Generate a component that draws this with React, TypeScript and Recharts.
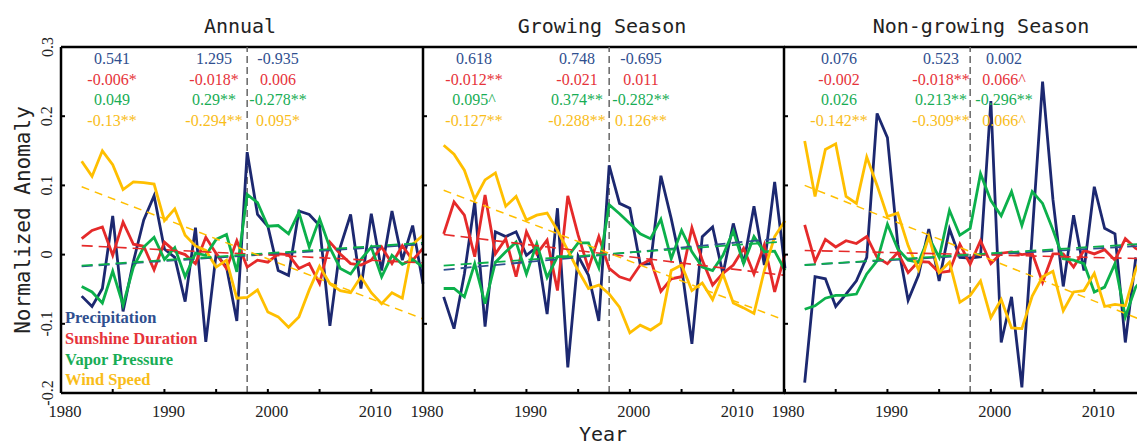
import { LineChart, Line, XAxis, YAxis, ReferenceLine } from "recharts";

const years = [
  1982, 1983, 1984, 1985, 1986, 1987, 1988, 1989, 1990, 1991, 1992, 1993, 1994, 1995, 1996, 1997, 1998,
  1999, 2000, 2001, 2002, 2003, 2004, 2005, 2006, 2007, 2008, 2009, 2010, 2011, 2012, 2013, 2014, 2015,
];

const xTicks = [1980, 1985, 1990, 1995, 2000, 2005, 2010, 2015];
const yTicks = [-0.2, -0.1, 0, 0.1, 0.2, 0.3];

// Annual
const annualPrecip = [-0.06, -0.075, -0.049, 0.056, -0.082, -0.01, 0.05, 0.085, 0.008, -0.004, -0.068, 0.039, -0.126, 0.001, -0.018, -0.096, 0.148, 0.058, 0.041, -0.023, -0.03, 0.063, 0.058, 0.042, -0.103, 0.011, 0.058, -0.049, 0.059, -0.023, 0.063, -0.008, 0.042, -0.042];
const annualSunshine = [0.023, 0.035, 0.04, -0.001, 0.047, 0.015, 0.012, -0.022, 0.018, 0.005, 0, -0.013, 0.025, 0.0015, -0.02, 0.02, -0.018, -0.008, -0.011, 0.001, 0, -0.02, -0.013, -0.042, 0.018, 0.001, -0.013, -0.015, -0.008, 0.011, -0.013, 0.013, -0.008, 0.009];
const annualVapor = [-0.046, -0.054, -0.07, -0.024, -0.073, -0.018, 0.011, 0.025, -0.007, 0.01, -0.032, 0.002, -0.001, 0.022, 0.029, -0.025, 0.087, 0.075, 0.041, 0.042, 0.03, 0.061, 0.011, 0.052, 0.01, -0.02, -0.028, -0.007, 0.011, -0.032, -0.001, -0.014, -0.007, -0.018];
const annualWind = [0.135, 0.113, 0.15, 0.13, 0.094, 0.105, 0.104, 0.102, 0.049, 0.066, 0.028, 0.0125, 0.006, -0.018, -0.008, -0.063, -0.062, -0.051, -0.083, -0.09, -0.105, -0.09, -0.051, -0.017, -0.042, -0.052, -0.055, -0.032, -0.055, -0.071, -0.055, -0.063, 0.015, 0.028];

// Growing season
const growingPrecip = [-0.061, -0.107, -0.028, 0.076, -0.104, 0.033, 0.026, 0.033, -0.001, 0.011, -0.086, 0.067, -0.163, -0.002, -0.03, -0.096, 0.129, 0.074, 0.067, -0.014, -0.013, 0.114, 0.052, -0.018, -0.129, 0.026, 0.04, -0.028, 0.045, -0.013, 0.07, -0.015, 0.105, -0.02];
const growingSunshine = [0.03, 0.076, 0.057, -0.003, 0.086, 0.001, 0.023, -0.032, 0.033, 0.001, 0.021, -0.052, 0.085, 0.028, -0.02, 0.026, -0.02, -0.032, -0.037, -0.015, -0.007, -0.053, -0.035, -0.032, 0.039, -0.008, -0.044, -0.027, -0.015, 0.009, -0.028, 0.014, -0.054, 0.001];
const growingVapor = [-0.049, -0.049, -0.061, -0.013, -0.071, -0.011, 0.004, 0.018, -0.028, 0.016, -0.033, -0.003, -0.003, 0.017, 0.017, -0.019, 0.072, 0.059, 0.045, 0.03, 0.023, 0.051, -0.006, 0.035, 0.004, -0.018, -0.023, -0.001, 0.034, -0.013, 0.026, 0.004, 0.005, -0.023];
const growingWind = [0.158, 0.145, 0.122, 0.08, 0.108, 0.118, 0.07, 0.084, 0.05, 0.057, 0.06, 0.035, 0.006, -0.023, -0.049, -0.044, -0.057, -0.076, -0.113, -0.102, -0.109, -0.099, -0.023, -0.015, -0.052, -0.041, -0.065, -0.028, -0.07, -0.077, -0.085, -0.023, 0.026, 0.049];

// Non-growing season
const nonGrowingPrecip = [-0.185, -0.032, -0.035, -0.075, -0.057, -0.038, -0.004, 0.204, 0.169, 0.015, -0.066, -0.03, 0.037, -0.038, 0.037, -0.004, -0.005, -0.003, 0.222, -0.127, -0.061, -0.192, 0.03, 0.25, 0.08, -0.046, 0.057, -0.023, 0.098, 0.038, 0.03, -0.127, -0.006, -0.01];
const nonGrowingSunshine = [0.043, -0.01, 0.022, 0.011, 0.02, 0.016, 0.026, -0.004, -0.013, 0.003, -0.026, -0.01, -0.011, -0.026, -0.024, 0.015, -0.014, 0.02, -0.013, 0.002, 0.004, 0, 0.002, -0.04, 0.001, 0.001, -0.018, 0.006, 0.001, 0.007, -0.008, 0.023, 0.009, 0.003];
const nonGrowingVapor = [-0.079, -0.074, -0.063, -0.059, -0.059, -0.057, -0.028, -0.009, 0.044, 0.008, -0.008, -0.011, 0.025, -0.004, 0.064, 0.028, 0.038, 0.117, 0.078, 0.056, 0.091, 0.042, 0.091, 0.074, 0.036, -0.006, -0.008, -0.013, -0.054, -0.047, -0.013, -0.09, -0.047, -0.03];
const nonGrowingWind = [0.164, 0.084, 0.152, 0.16, 0.084, 0.074, 0.141, 0.1, 0.055, 0.06, 0.013, -0.022, 0.026, -0.026, -0.011, -0.069, -0.059, -0.038, -0.091, -0.065, -0.106, -0.107, -0.06, -0.032, -0.024, -0.081, -0.054, -0.052, -0.027, -0.075, -0.072, -0.074, -0.022, 0.01];

// trend lines: value at 1982 and at 2015
const annualTrends = { p: [-0.017, 0.015], s: [0.013, -0.012], v: [-0.016, 0.017], w: [0.098, -0.093] };
const growingTrends = { p: [-0.022, 0.024], s: [0.029, -0.03], v: [-0.016, 0.019], w: [0.093, -0.095] };
const nonGrowingTrends = { p: [-0.015, 0.013], s: [0.006, -0.006], v: [-0.015, 0.016], w: [0.1, -0.097] };

// slope annotations (rows: precip, sunshine, vapor, wind; cols: 1982-2015, 1982-1998, 1998-2015)
const annualNotes = [
  ["0.541", "1.295", "-0.935"],
  ["-0.006*", "-0.018*", "0.006"],
  ["0.049", "0.29**", "-0.278**"],
  ["-0.13**", "-0.294**", "0.095*"],
];
const growingNotes = [
  ["0.618", "0.748", "-0.695"],
  ["-0.012**", "-0.021", "0.011"],
  ["0.095^", "0.374**", "-0.282**"],
  ["-0.127**", "-0.288**", "0.126**"],
];
const nonGrowingNotes = [
  ["0.076", "0.523", "0.002"],
  ["-0.002", "-0.018**", "0.066^"],
  ["0.026", "0.213**", "-0.296**"],
  ["-0.142**", "-0.309**", "0.066^"],
];

const legendLabels = ["Precipitation", "Sunshine Duration", "Vapor Pressure", "Wind Speed"];
const panelTitles = ["Annual", "Growing Season", "Non-growing Season"];

const lineColors = ["#1c2870", "#e52a2a", "#0cb04b", "#ffbf00"];
const textColors = ["#2f4f8f", "#e6333a", "#18ad55", "#f9bd1a"];

const SERIF = "'Liberation Serif', 'Times New Roman', serif";
const MONO = "'DejaVu Sans Mono', monospace";

function buildRows(p: number[], s: number[], v: number[], w: number[], t: any) {
  return years.map((year, i) => {
    const end = i === 0 ? 0 : i === years.length - 1 ? 1 : -1;
    const pick = (arr: number[]) => (end < 0 ? null : arr[end]);
    return { year, p: p[i], s: s[i], v: v[i], w: w[i], tp: pick(t.p), ts: pick(t.s), tv: pick(t.v), tw: pick(t.w) };
  });
}

const panels = [
  { left: 61, rows: buildRows(annualPrecip, annualSunshine, annualVapor, annualWind, annualTrends), notes: annualNotes, cols: [112, 214, 278], title: 240 },
  { left: 423, rows: buildRows(growingPrecip, growingSunshine, growingVapor, growingWind, growingTrends), notes: growingNotes, cols: [474, 577, 641], title: 602 },
  { left: 784, rows: buildRows(nonGrowingPrecip, nonGrowingSunshine, nonGrowingVapor, nonGrowingWind, nonGrowingTrends), notes: nonGrowingNotes, cols: [839, 941, 1004], title: 981 },
];

const YTick = (props: any) => {
  const { x, y, payload, show } = props;
  if (!show) return <g />;
  return (
    <text x={x} y={y} transform={`rotate(-90 ${x} ${y})`} textAnchor="middle" dominantBaseline="central" fontFamily={SERIF} fontSize={16} fill="#222">
      {String(payload.value)}
    </text>
  );
};

const XTick = (props: any) => {
  const { x, y, payload } = props;
  if (payload.value % 10 !== 0) return <g />;
  return (
    <text x={x + 4} y={y} dy="0.71em" textAnchor="middle" fontFamily={SERIF} fontSize={16.5} fill="#222">
      {payload.value}
    </text>
  );
};

function Panel({ rows, left, showY }: { rows: any[]; left: number; showY: boolean }) {
  return (
    <div style={{ position: "absolute", left: left - 60, top: 0 }}>
      <LineChart width={432} height={448} data={rows} margin={{ top: 47, right: 10, bottom: 25, left: 0 }}>
        <XAxis
          dataKey="year"
          type="number"
          domain={[1980, 2015]}
          ticks={xTicks}
          height={30}
          tickSize={-4}
          tickMargin={16}
          tick={<XTick />}
          axisLine={{ stroke: "#000", strokeWidth: 2.5 }}
          tickLine={{ stroke: "#000", strokeWidth: 2 }}
        />
        <YAxis
          type="number"
          domain={[-0.2, 0.3]}
          ticks={yTicks}
          width={60}
          tickSize={-4}
          tickMargin={18}
          tick={<YTick show={showY} />}
          axisLine={{ stroke: "#000", strokeWidth: 2.5 }}
          tickLine={{ stroke: "#000", strokeWidth: 2 }}
        />
        <ReferenceLine y={0.3} stroke="#000" strokeWidth={2.5} />
        <ReferenceLine x={1998} stroke="#666" strokeWidth={1.5} strokeDasharray="7 4" />
        <Line dataKey="p" stroke={lineColors[0]} strokeWidth={2.8} dot={false} isAnimationActive={false} />
        <Line dataKey="s" stroke={lineColors[1]} strokeWidth={2.8} dot={false} isAnimationActive={false} />
        <Line dataKey="v" stroke={lineColors[2]} strokeWidth={2.8} dot={false} isAnimationActive={false} />
        <Line dataKey="w" stroke={lineColors[3]} strokeWidth={2.8} dot={false} isAnimationActive={false} />
        <Line dataKey="tp" stroke="#2f4f8f" strokeWidth={1.8} strokeDasharray="11 6" dot={false} connectNulls isAnimationActive={false} />
        <Line dataKey="ts" stroke={lineColors[1]} strokeWidth={1.6} strokeDasharray="11 6" dot={false} connectNulls isAnimationActive={false} />
        <Line dataKey="tv" stroke={lineColors[2]} strokeWidth={1.8} strokeDasharray="11 6" dot={false} connectNulls isAnimationActive={false} />
        <Line dataKey="tw" stroke={lineColors[3]} strokeWidth={1.5} strokeDasharray="8 6" dot={false} connectNulls isAnimationActive={false} />
      </LineChart>
    </div>
  );
}

export default function App() {
  const rowBase = [64, 85, 105, 126];
  const legendBase = [323, 344, 365, 385];
  return (
    <div style={{ position: "absolute", left: 0, top: 0, width: 1137, height: 448, overflow: "hidden", background: "#fff" }}>
      {panels.map((pn, i) => (
        <Panel key={i} rows={pn.rows} left={pn.left} showY={i === 0} />
      ))}
      <svg width={1137} height={448} style={{ position: "absolute", left: 0, top: 0, pointerEvents: "none" }}>
        {panels.map((pn, i) => (
          <text key={"t" + i} x={pn.title} y={33} textAnchor="middle" fontFamily={MONO} fontSize={20} fill="#222">
            {panelTitles[i]}
          </text>
        ))}
        {panels.map((pn, i) =>
          pn.notes.map((row, r) =>
            row.map((txt, c) => (
              <text key={`n${i}-${r}-${c}`} x={pn.cols[c]} y={rowBase[r]} textAnchor="middle" fontFamily={SERIF} fontSize={16} fill={textColors[r]}>
                {txt}
              </text>
            ))
          )
        )}
        {legendLabels.map((lab, r) => (
          <text key={"l" + r} x={65} y={legendBase[r]} fontFamily={SERIF} fontWeight="bold" fontSize={16.5} fill={textColors[r]}>
            {lab}
          </text>
        ))}
        <text x={30} y={220} transform="rotate(-90 30 220)" textAnchor="middle" fontFamily={MONO} fontSize={21} fill="#222">
          Normalized Anomaly
        </text>
        <text x={603} y={441} textAnchor="middle" fontFamily={MONO} fontSize={20} fill="#222">
          Year
        </text>
      </svg>
    </div>
  );
}
